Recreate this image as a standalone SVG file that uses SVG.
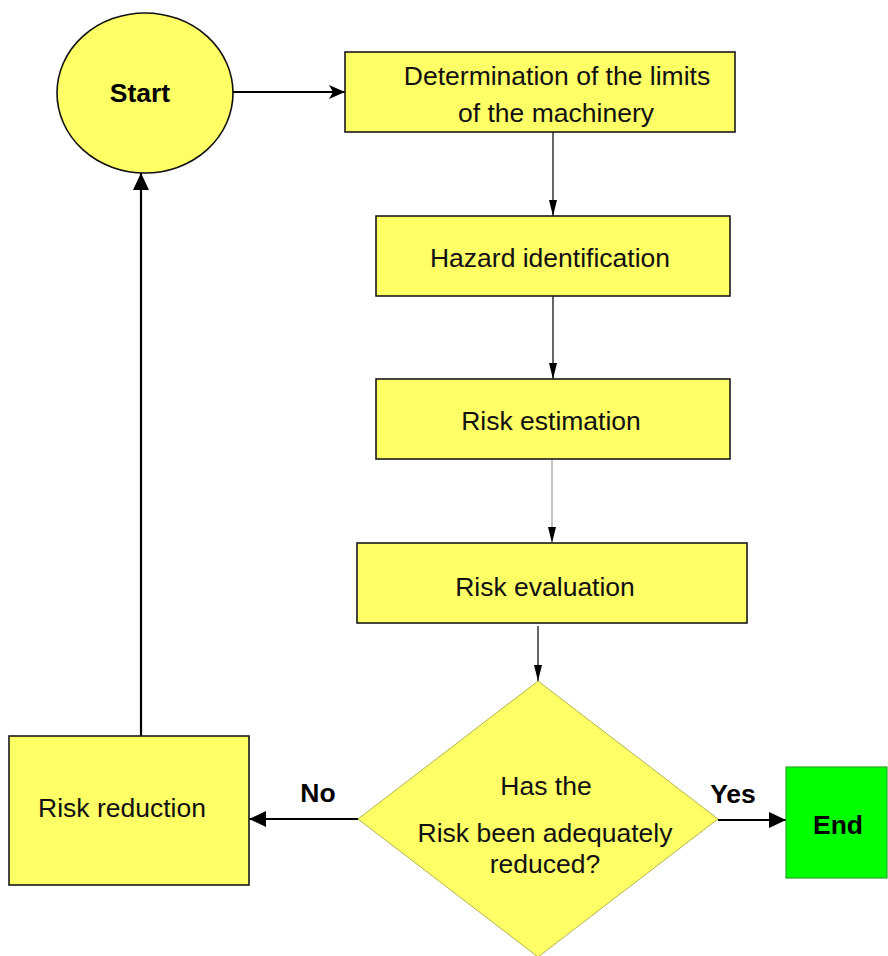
<svg xmlns="http://www.w3.org/2000/svg" width="888" height="956" viewBox="0 0 888 956">
  <style>
    .box { fill: #ffff66; stroke: #1a1a1a; stroke-width: 1.6; }
    .end { fill: #00ff00; stroke: #22aa22; stroke-width: 1.2; }
    .dec { fill: #ffff66; stroke: #b3b34d; stroke-width: 1; }
    .t { font-family: "Liberation Sans", Arial, sans-serif; font-size: 26.5px; fill: #111; text-anchor: middle; }
    .b { font-family: "Liberation Sans", Arial, sans-serif; font-size: 26.5px; font-weight: bold; fill: #000; text-anchor: middle; }
    .thin { stroke: #000; stroke-width: 1.2; fill: none; }
    .thick { stroke: #000; stroke-width: 2.2; fill: none; }
  </style>
  <defs>
    <marker id="small" markerUnits="userSpaceOnUse" viewBox="0 0 16 10" refX="16" refY="5" markerWidth="16" markerHeight="10" orient="auto">
      <path d="M0,1 L16,5 L0,9 Z" fill="#000"/>
    </marker>
    <marker id="barb" markerUnits="userSpaceOnUse" viewBox="0 0 16 14" refX="16" refY="7" markerWidth="16" markerHeight="14" orient="auto">
      <path d="M0,0 L16,7 L0,14 L4,7 Z" fill="#000"/>
    </marker>
    <marker id="solid" markerUnits="userSpaceOnUse" viewBox="0 0 17 16" refX="17" refY="8" markerWidth="17" markerHeight="16" orient="auto">
      <path d="M0,0 L17,8 L0,16 Z" fill="#000"/>
    </marker>
  </defs>

  <g id="connectors">
    <line class="thick" x1="222" y1="92" x2="345" y2="92" marker-end="url(#barb)"/>
    <line class="thin" x1="553" y1="132" x2="553" y2="216" marker-end="url(#small)"/>
    <line class="thin" x1="553" y1="296" x2="553" y2="379" marker-end="url(#small)"/>
    <line x1="552" y1="459" x2="552" y2="543" stroke="#999" stroke-width="1.2" marker-end="url(#small)"/>
    <line class="thin" x1="538" y1="626" x2="538" y2="681" marker-end="url(#small)"/>
    <line class="thick" x1="358" y1="819" x2="249" y2="819" marker-end="url(#solid)"/>
    <line class="thick" x1="718" y1="820" x2="786" y2="820" marker-end="url(#solid)"/>
    <line class="thick" x1="141" y1="736" x2="141" y2="173" marker-end="url(#solid)"/>
    <text class="b" x="318" y="802">No</text>
    <text class="b" x="733" y="803">Yes</text>
  </g>

  <g id="start">
    <ellipse cx="145" cy="93" rx="88" ry="80" fill="#ffff66" stroke="#111" stroke-width="1.6"/>
    <text class="b" x="140" y="102">Start</text>
  </g>

  <g id="limits">
    <rect class="box" x="345" y="52" width="390" height="80"/>
    <text class="t" x="557" y="85">Determination of the limits</text>
    <text class="t" x="556" y="122">of the machinery</text>
  </g>

  <g id="hazard">
    <rect class="box" x="376" y="216" width="354" height="80"/>
    <text class="t" x="550" y="267">Hazard identification</text>
  </g>

  <g id="estimation">
    <rect class="box" x="376" y="379" width="354" height="80"/>
    <text class="t" x="551" y="430">Risk estimation</text>
  </g>

  <g id="evaluation">
    <rect class="box" x="357" y="543" width="390" height="80"/>
    <text class="t" x="545" y="596">Risk evaluation</text>
  </g>

  <g id="decision">
    <polygon class="dec" points="538,681 718,819 538,957 358,819"/>
    <text class="t" x="546" y="795">Has the</text>
    <text class="t" x="545" y="842">Risk been adequately</text>
    <text class="t" x="545" y="873">reduced?</text>
  </g>

  <g id="reduction">
    <rect class="box" x="9" y="736" width="240" height="149"/>
    <text class="t" x="122" y="817">Risk reduction</text>
  </g>

  <g id="end">
    <rect class="end" x="786" y="767" width="101" height="111"/>
    <text class="b" x="838" y="834">End</text>
  </g>
</svg>
